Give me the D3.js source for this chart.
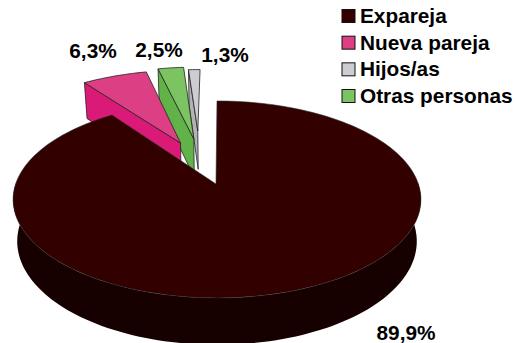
<!DOCTYPE html>
<meta charset="utf-8">
<style>
  body { margin: 0; background: #fff; }
  text { font-family: "Liberation Sans", Arial, sans-serif; font-weight: bold; fill: #000; }
</style>
<script src="https://d3js.org/d3.v7.min.js"></script>

<div id="my_dataviz"></div>
<script>
  // Values
  const legendLabels = ["Expareja", "Nueva pareja", "Hijos/as", "Otras personas"];
  const legendColors = ["#330000", "#DC3F84", "#CCCDD0", "#7CC462"];

  // Slices in the order they run round the pie
  const sliceNames = ["Expareja", "Nueva pareja", "Otras personas", "Hijos/as"];
  const sliceValues = [89.9, 6.3, 2.5, 1.3];
  const sliceLabels = ["89,9%", "6,3%", "2,5%", "1,3%"];

  const width = 515,
        height = 343;

  const svg = d3.select("#my_dataviz")
    .append("svg")
      .attr("width", width)
      .attr("height", height)
      .style("display", "block");

  // Fake 3D: the pie lies on a tilted plane, seen with some perspective
  const cx = 217, cy = 183, rx = 201, ry = 95.7, persp = 0.167, depth = 41, shrink = 0.02;

  function project(u, v, z) {
    const w = 1 + persp * v,
          s = 1 - shrink * z;
    return [cx + rx * s * u / w, cy + (depth * z - ry * s * v) / w];
  }

  const arcs = d3.pie().sort(null).value(d => d)(sliceValues);

  // Style of each slice: top colour, wall colour, explode offset on the plane, radius
  const sliceStyle = {
    "Expareja":       {top: "#330000", wall: "#170000", stroke: "#2b2b2b", du: 0, dv: 0, r: 1},
    "Nueva pareja":   {top: "#DC3F84", wall: "#DB1A78", stroke: "#222", du: -0.195, dv: 0.449, r: 1.02},
    "Otras personas": {top: "#7CC462", wall: "#62B24A", stroke: "#222", du: -0.125, dv: 0.498, r: 1.02},
    "Hijos/as":       {top: "#CCCDD0", wall: "#B2B3B5", stroke: "#222", du: -0.105, dv: 0.598, r: 0.88}
  };

  const line = d3.line();

  function rimPoints(st, z, a0, a1) {
    const n = Math.max(2, Math.ceil((a1 - a0) / 0.03));
    return d3.range(n + 1).map(i => {
      const a = a0 + (a1 - a0) * i / n;
      return project(st.du + st.r * Math.sin(a), st.dv + st.r * Math.cos(a), z);
    });
  }

  // Draw from back to front
  [3, 2, 1].forEach(i => {
    const arc = arcs[i], st = sliceStyle[sliceNames[i]];
    // cut wall on the left edge of the slice
    const outerTop = rimPoints(st, 0, arc.startAngle, arc.startAngle)[0],
          outerBot = rimPoints(st, 1, arc.startAngle, arc.startAngle)[0];
    svg.append("path")
      .attr("d", line([outerTop, project(st.du, st.dv, 0), project(st.du, st.dv, 1), outerBot]) + "Z")
      .attr("fill", st.wall)
      .attr("stroke", st.stroke)
      .attr("stroke-width", 0.8)
      .attr("stroke-linejoin", "round");
    svg.append("path")
      .attr("d", line([project(st.du, st.dv, 0)].concat(rimPoints(st, 0, arc.startAngle, arc.endAngle))) + "Z")
      .attr("fill", st.top)
      .attr("stroke", st.stroke)
      .attr("stroke-width", 0.8)
      .attr("stroke-linejoin", "round");
  });

  // Big slice: front wall, then top
  const main = arcs[0], mainSt = sliceStyle["Expareja"];
  const frontTop = rimPoints(mainSt, 0, Math.PI * 0.5, Math.PI * 1.5),
        frontBot = rimPoints(mainSt, 1, Math.PI * 0.5, Math.PI * 1.5);
  svg.append("path")
    .attr("d", line(frontTop.concat(frontBot.reverse())) + "Z")
    .attr("fill", mainSt.wall)
    .attr("stroke", "none");
  svg.append("path")
    .attr("d", line([project(-0.005, -0.01, 0)].concat(rimPoints(mainSt, 0, main.startAngle, main.endAngle))) + "Z")
    .attr("fill", mainSt.top)
    .attr("stroke", mainSt.stroke)
    .attr("stroke-width", 0.6)
    .attr("stroke-linejoin", "round");

  // Percent labels
  const labelX = d3.scaleOrdinal().domain(sliceNames).range([406, 93, 159, 225]),
        labelY = d3.scaleOrdinal().domain(sliceNames).range([340, 58, 57, 62]);

  svg.selectAll("text.pct")
    .data(sliceLabels)
    .join("text")
      .attr("class", "pct")
      .attr("x", (d, i) => labelX(sliceNames[i]))
      .attr("y", (d, i) => labelY(sliceNames[i]))
      .attr("text-anchor", "middle")
      .attr("font-size", 20.8)
      .text(d => d);

  // Legend
  const legendY = d3.scalePoint().domain(legendLabels).range([16, 96]);

  const legend = svg.selectAll("g.legend")
    .data(legendLabels)
    .join("g")
      .attr("class", "legend")
      .attr("transform", d => `translate(342, ${legendY(d)})`);

  legend.append("rect")
    .attr("x", 0)
    .attr("y", -6.5)
    .attr("width", 13)
    .attr("height", 13)
    .attr("fill", (d, i) => legendColors[i])
    .attr("stroke", "#111")
    .attr("stroke-width", 1);

  legend.append("text")
    .attr("x", 18)
    .attr("y", 7)
    .attr("font-size", 20.8)
    .text(d => d);
</script>
